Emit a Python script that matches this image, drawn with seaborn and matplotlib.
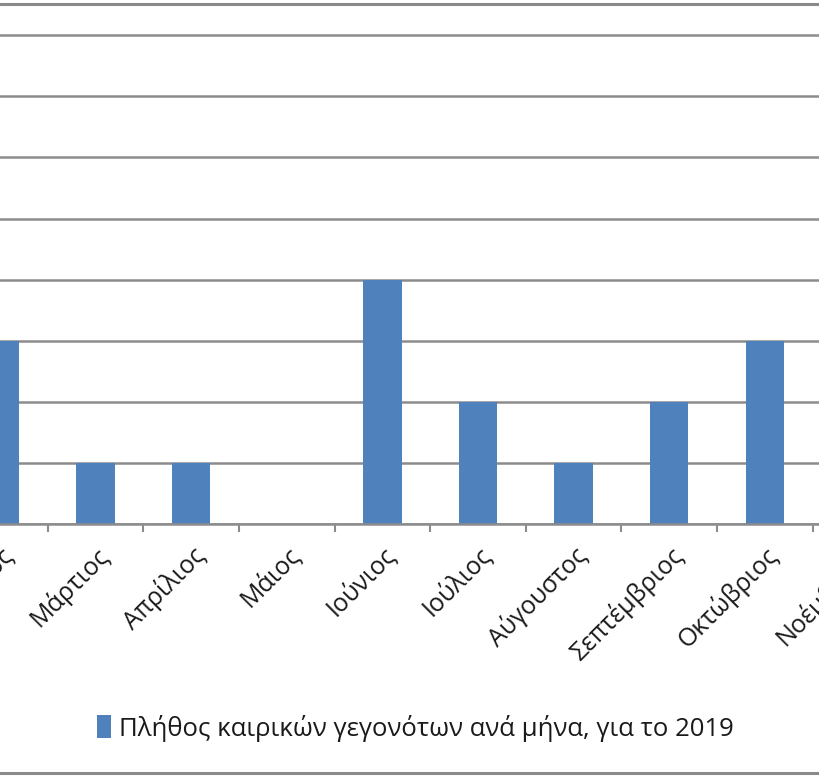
import matplotlib
matplotlib.use("Agg")
import matplotlib.pyplot as plt
from matplotlib.lines import Line2D
from matplotlib.ticker import FixedLocator
import seaborn as sns
import pandas as pd

months = ["Φεβρουάριος", "Μάρτιος", "Απρίλιος", "Μάιος", "Ιούνιος", "Ιούλιος",
          "Αύγουστος", "Σεπτέμβριος", "Οκτώβριος", "Νοέμβριος"]
visible_months = months[:9]
counts = [3, 1, 1, 0, 4, 2, 1, 2, 3]
series_label = "Πλήθος καιρικών γεγονότων ανά μήνα, για το 2019"

df = pd.DataFrame({"month": visible_months, "count": counts})

sns.set_theme(style="white")
plt.rcParams["font.family"] = ["Open Sans", "DejaVu Sans"]

W, H = 820, 780
fig = plt.figure(figsize=(W / 100, H / 100), dpi=100)
step = 95.6
left_px = -0.5 * step
right_px = 9.5 * step
bottom_px = 524
top_px = 34
ax = fig.add_axes([left_px / W, 1 - bottom_px / H, (right_px - left_px) / W, (bottom_px - top_px) / H])

sns.barplot(data=df, x="month", y="count", order=months, color="#4F81BD",
            width=0.4, saturation=1, linewidth=0, ax=ax, label=series_label)

ax.set_xlim(-0.5, 9.5)
ax.set_ylim(0, 8.02)
ax.set_yticks(range(0, 9))
ax.yaxis.grid(True, color="#8c8c8c", linewidth=1.8)
ax.set_axisbelow(True)
ax.tick_params(axis="y", left=False, labelleft=False)
for s in ["top", "right", "left"]:
    ax.spines[s].set_visible(False)
ax.spines["bottom"].set_color("#8c8c8c")
ax.spines["bottom"].set_linewidth(1.8)

ax.set_xlabel("")
ax.set_ylabel("")
ax.xaxis.set_minor_locator(FixedLocator([i + 0.5 for i in range(-1, 10)]))
ax.tick_params(axis="x", which="major", length=0, pad=13)
ax.tick_params(axis="x", which="minor", length=6, width=1.5, color="#8c8c8c", bottom=True)
for lbl in ax.get_xticklabels():
    lbl.set_rotation(45)
    lbl.set_ha("right")
    lbl.set_va("top")
    lbl.set_rotation_mode("anchor")
    lbl.set_fontsize(18)
    lbl.set_color("#1a1a1a")

leg = ax.legend(loc="center", bbox_to_anchor=(415 / W, 1 - 728 / H),
                bbox_transform=fig.transFigure, frameon=False, fontsize=18.5,
                handlelength=0.55, handleheight=1.0, handletextpad=0.3)
for t in leg.get_texts():
    t.set_color("#1a1a1a")

fig.add_artist(Line2D([0, 1], [1 - 4 / H, 1 - 4 / H], color="#8a8a8a", linewidth=2.2))
fig.add_artist(Line2D([0, 1], [1 - 773 / H, 1 - 773 / H], color="#8a8a8a", linewidth=2.2))

fig.savefig("out.png", dpi=100)
